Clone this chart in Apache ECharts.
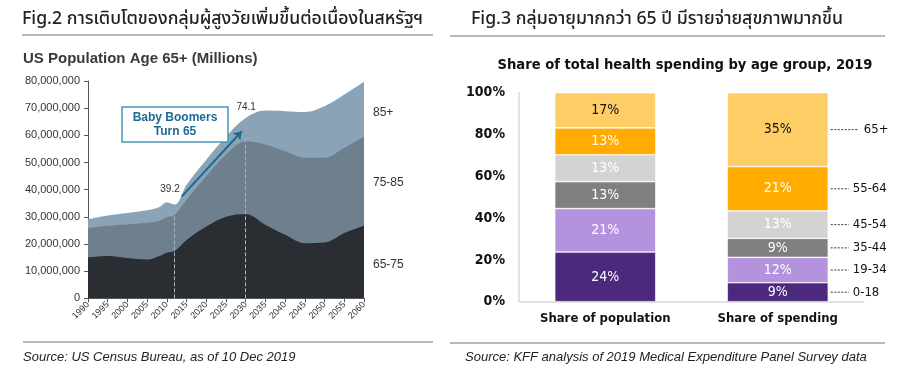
<!DOCTYPE html>
<html>
<head>
<meta charset="utf-8">
<script src="https://cdn.jsdelivr.net/npm/echarts@6/dist/echarts.min.js"></script>
<style>
html,body{margin:0;padding:0;background:#fff;}
#c{width:900px;height:382px;}
</style>
</head>
<body>
<div id="c"></div>
<script>
// ---------- Fig.2 data (millions) ----------
const years = [1990,1995,2000,2005,2008,2010,2012,2015,2020,2025,2030,2035,2040,2045,2050,2055,2060];
const age65to75 = [15.1,15.6,14.8,14.3,15.5,16.8,17.4,21.5,26.4,30.0,31.0,27.0,23.4,20.3,20.5,24.0,26.7];
const age75to85 = [10.7,11.1,12.4,13.5,13.0,13.0,13.4,14.8,18.5,22.9,26.8,29.6,30.7,31.4,31.2,31.4,32.9];
const age85plus = [3.3,3.8,4.2,4.6,5.0,5.6,3.7,5.5,6.1,6.7,8.6,12.5,14.8,16.9,19.0,19.6,20.1];
const markYears = [2012, 2030];
const annotValues = [39.2, 74.1];
const leftTicks = {min:1990, max:2060, interval:5};
const leftY = {min:0, max:80, interval:10};

// ---------- Fig.3 data (%) ----------
const barCategories = ['Share of population','Share of spending'];
const ageGroups = ['0-18','19-34','35-44','45-54','55-64','65+'];
const popShare = [24,21,13,13,13,17];
const spendShare = [9,12,9,13,21,35];
const groupColors = ['#4b2a7e','#b393dd','#7f7f7f','#d3d3d3','#ffab00','#ffcd66'];
const labelColors = ['#fff','#fff','#fff','#fff','#fff','#111'];

const popSum = popShare.reduce((a,b)=>a+b,0);
const spendSum = spendShare.reduce((a,b)=>a+b,0);

// cumulative layers (drawn back to front, each filled down to zero)
const cumMid = age65to75.map((v,i)=>v+age75to85[i]);
const cumTop = cumMid.map((v,i)=>v+age85plus[i]);

const chart = echarts.init(document.getElementById('c'), null, {renderer:'canvas'});
const ARIAL = '"Liberation Sans", Arial, sans-serif';
const TAHOMA = '"DejaVu Sans Condensed", "DejaVu Sans", sans-serif';

function areaSeries(name, data, color, extra){
  return Object.assign({
    name, type:'line', smooth:0.35, symbol:'none',
    xAxisIndex:0, yAxisIndex:0,
    lineStyle:{width:0}, areaStyle:{color:color, opacity:1},
    data: years.map((y,i)=>[y, data[i]])
  }, extra||{});
}

const barSeries = ageGroups.map((g,i)=>({
  name:g, type:'bar', stack:'share', xAxisIndex:1, yAxisIndex:1,
  barWidth:101,
  itemStyle:{color:groupColors[i], borderColor:'#fff', borderWidth:0.6},
  label:{show:true, position:'inside', color:labelColors[i], fontFamily:TAHOMA, fontSize:14,
    formatter:(p)=> (p.dataIndex===0?popShare[i]:spendShare[i]) + '%'},
  data:[popShare[i]/popSum*100, spendShare[i]/spendSum*100]
}));

const dashStyle = {type:'dashed', color:'#a9b4bf', width:1};

const option = {
  animation:false,
  grid:[
    {left:88, top:81, width:276, height:217.3},
    {left:519, top:92.7, width:345, height:209}
  ],
  xAxis:[
    {type:'value', gridIndex:0, min:leftTicks.min, max:leftTicks.max, interval:leftTicks.interval,
     axisLine:{show:true, lineStyle:{color:'#555', width:1}},
     axisTick:{show:true, length:4, lineStyle:{color:'#555'}},
     splitLine:{show:false},
     axisLabel:{rotate:45, fontSize:9, color:'#333', fontFamily:ARIAL, margin:5, showMinLabel:true, showMaxLabel:true,
       formatter:(v)=>String(v)}},
    {type:'category', gridIndex:1, data:barCategories,
     axisLine:{show:true, lineStyle:{color:'#d9d9d9', width:1.5}},
     axisTick:{show:false},
     axisLabel:{interval:0, fontSize:13, fontWeight:'bold', color:'#111', fontFamily:TAHOMA, margin:10}}
  ],
  yAxis:[
    {type:'value', gridIndex:0, min:leftY.min, max:leftY.max, interval:leftY.interval,
     axisLine:{show:true, lineStyle:{color:'#555', width:1}},
     axisTick:{show:true, length:4, lineStyle:{color:'#555'}},
     splitLine:{show:false},
     axisLabel:{fontSize:11, color:'#333', fontFamily:ARIAL, margin:8,
       formatter:(v)=> (v*1000000).toLocaleString('en-US')}},
    {type:'value', gridIndex:1, min:0, max:100, interval:20,
     axisLine:{show:true, lineStyle:{color:'#d9d9d9', width:1.5}},
     axisTick:{show:false}, splitLine:{show:false},
     axisLabel:{fontSize:14, fontWeight:'bold', color:'#111', fontFamily:TAHOMA, margin:14,
       formatter:'{value}%'}}
  ],
  series:[
    areaSeries('85+', cumTop, '#8ba3b7'),
    areaSeries('75-85', cumMid, '#6e7f8d'),
    areaSeries('65-75', age65to75, '#2a2e33', {
      markLine:{
        silent:true, animation:false,
        data:[
          [{coord:[markYears[0],0], symbol:'none', lineStyle:dashStyle},
           {coord:[markYears[0],31.2], symbol:'none'}],
          [{coord:[markYears[1],0], symbol:'none', lineStyle:dashStyle},
           {coord:[markYears[1],59.0], symbol:'none'}],
          [{coord:[2013.8,37.5], symbol:'none', lineStyle:{type:'solid', color:'#1c6b8f', width:2}},
           {coord:[2029.0,61.5], symbol:'arrow', symbolSize:8}]
        ],
        label:{show:false}
      },
      markPoint:{
        silent:true, symbol:'circle', symbolSize:0,
        label:{show:true, color:'#333', fontSize:10, fontFamily:ARIAL, formatter:(p)=>String(p.value)},
        data:[
          {coord:[2010.8,40.2], value:annotValues[0]},
          {coord:[2030.1,70.2], value:annotValues[1]}
        ]
      }
    })
  ].concat(barSeries)
};
chart.setOption(option);

const THAI = '500 17.7px "Noto Sans Thai", "Noto Sans", sans-serif';
const graphics = [
  // headings
  {type:'text', left:22, top:11, style:{text:'Fig.2 การเติบโตของกลุ่มผู้สูงวัยเพิ่มขึ้นต่อเนื่องในสหรัฐฯ', font:THAI, fill:'#222'}},
  {type:'text', left:471, top:11, style:{text:'Fig.3 กลุ่มอายุมากกว่า 65 ปี มีรายจ่ายสุขภาพมากขึ้น', font:THAI, fill:'#222'}},
  {type:'line', shape:{x1:22,y1:35,x2:433,y2:35}, style:{stroke:'#a0a0a0', lineWidth:1.5}},
  {type:'line', shape:{x1:450,y1:36,x2:885,y2:36}, style:{stroke:'#a0a0a0', lineWidth:1.5}},
  {type:'line', shape:{x1:23,y1:342,x2:433,y2:342}, style:{stroke:'#a0a0a0', lineWidth:1.5}},
  {type:'line', shape:{x1:450,y1:343,x2:885,y2:343}, style:{stroke:'#a0a0a0', lineWidth:1.5}},
  {type:'text', left:23, top:351, style:{text:'Source: US Census Bureau, as of 10 Dec 2019', font:'italic 13px "Liberation Sans", Arial, sans-serif', fill:'#222'}},
  {type:'text', left:465, top:351, style:{text:'Source: KFF analysis of 2019 Medical Expenditure Panel Survey data', font:'italic 13px "Liberation Sans", Arial, sans-serif', fill:'#222'}},
  // chart titles
  {type:'text', left:23, top:51, style:{text:'US Population Age 65+ (Millions)', font:'bold 15px "Liberation Sans", Arial, sans-serif', fill:'#3a3a3a'}},
  {type:'text', x:685, y:65, style:{text:'Share of total health spending by age group, 2019', font:'bold 14.6px "DejaVu Sans Condensed", "DejaVu Sans", sans-serif', fill:'#111', align:'center', verticalAlign:'middle'}},
  // baby boomers box
  {type:'rect', z:10, shape:{x:122, y:107, width:106, height:35}, style:{fill:'#fff', stroke:'#4a97b8', lineWidth:1.5}},
  {type:'text', z:11, x:175, y:124.5, style:{text:'Baby Boomers\nTurn 65', font:'bold 12px "Liberation Sans", Arial, sans-serif', fill:'#1d6b93', align:'center', verticalAlign:'middle', lineHeight:14}},
  // layer labels
  {type:'text', x:373, y:113, style:{text:'85+', font:'12px "Liberation Sans", Arial, sans-serif', fill:'#333', verticalAlign:'middle'}},
  {type:'text', x:373, y:183, style:{text:'75-85', font:'12px "Liberation Sans", Arial, sans-serif', fill:'#333', verticalAlign:'middle'}},
  {type:'text', x:373, y:265, style:{text:'65-75', font:'12px "Liberation Sans", Arial, sans-serif', fill:'#333', verticalAlign:'middle'}}
];
// leader labels for the spending bar (positioned at segment centres)
let cum = 0;
const barRight = chart.convertToPixel({gridIndex:1}, [1, 0])[0] + 51;
ageGroups.forEach((g,i)=>{
  const v = spendShare[i]/spendSum*100;
  const mid = cum + v/2; cum += v;
  const py = chart.convertToPixel({gridIndex:1}, [1, mid])[1];
  const last = i === ageGroups.length-1;
  const x2 = last ? barRight+30 : barRight+20;
  graphics.push({type:'line', shape:{x1:barRight+2, y1:py, x2:x2, y2:py}, style:{stroke:'#333', lineWidth:1, lineDash:[2,1.5]}});
  graphics.push({type:'text', x:x2+(last?5:4), y:py, style:{text:g, font:'13px "DejaVu Sans Condensed", "DejaVu Sans", sans-serif', fill:'#111', verticalAlign:'middle'}});
});
chart.setOption({graphic:graphics});
</script>
</body>
</html>
